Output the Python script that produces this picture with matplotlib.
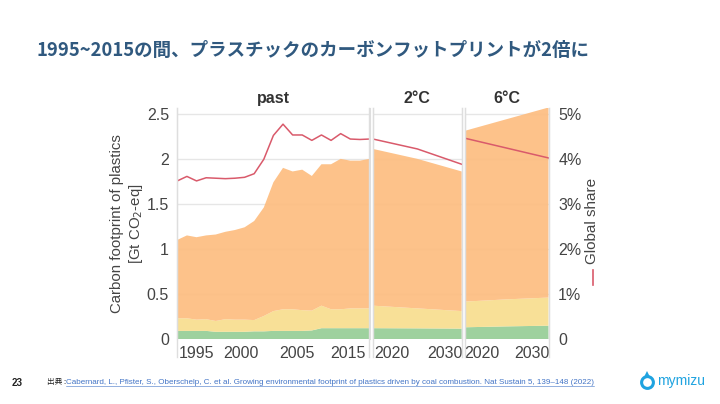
import numpy as np
import matplotlib.pyplot as plt
from matplotlib.lines import Line2D

plt.rcParams['font.family'] = ['Liberation Sans', 'DejaVu Sans']

# past (1995-2015), stacked layers in Gt CO2-eq
years_past = list(range(1995, 2016))
green_past = [0.09, 0.09, 0.09, 0.09, 0.08, 0.08, 0.08, 0.08, 0.085, 0.085, 0.09,
              0.09, 0.09, 0.09, 0.095, 0.12, 0.12, 0.12, 0.12, 0.12, 0.12]
yellow_past = [0.14, 0.14, 0.125, 0.13, 0.12, 0.14, 0.135, 0.135, 0.125, 0.17, 0.22,
               0.24, 0.24, 0.23, 0.22, 0.25, 0.21, 0.21, 0.22, 0.22, 0.22]
orange_past = [0.87, 0.92, 0.915, 0.93, 0.96, 0.97, 0.995, 1.025, 1.10, 1.205, 1.43,
               1.57, 1.53, 1.56, 1.495, 1.57, 1.61, 1.67, 1.64, 1.64, 1.66]
share_past = [3.51, 3.61, 3.51, 3.58, 3.57, 3.56, 3.57, 3.59, 3.67, 3.99, 4.52,
              4.77, 4.53, 4.53, 4.41, 4.53, 4.41, 4.56, 4.44, 4.43, 4.44]

# scenarios (2015-2035)
years_scen = [2015, 2025, 2035]
green_2c = [0.12, 0.118, 0.115]
yellow_2c = [0.25, 0.222, 0.195]
orange_2c = [1.74, 1.66, 1.55]
share_2c = [4.44, 4.22, 3.88]

green_6c = [0.13, 0.14, 0.148]
yellow_6c = [0.285, 0.30, 0.312]
orange_6c = [1.895, 2.00, 2.11]
share_6c = [4.46, 4.24, 4.02]

panel_titles = ['past', '2°C', '6°C']
tick_pos = [[1997, 2001.6, 2007.5, 2012.8], [2019.2, 2031.3], [2019.1, 2031.0]]
tick_labels = [['1995', '2000', '2005', '2015'], ['2020', '2030'], ['2020', '2030']]

c_green = '#96cd96'
c_yellow = '#f8de8e'
c_orange = '#fdbd80'
c_red = '#d95a6b'
txt = '#444444'
sep = '#dedede'

W, H = 720, 404
fig = plt.figure(figsize=(7.2, 4.04), dpi=100)

def fx(px):
    return px / W

def fy(py):
    return 1 - py / H

top_px, bot_px = 107.5, 339
panels_px = [(177.3, 369.5), (373.0, 461.7), (464.5, 548.5)]
ymax = 2.57

data = [
    (years_past, green_past, yellow_past, orange_past, share_past),
    (years_scen, green_2c, yellow_2c, orange_2c, share_2c),
    (years_scen, green_6c, yellow_6c, orange_6c, share_6c),
]

for i, ((x0, x1), (yrs, g, y, o, s)) in enumerate(zip(panels_px, data)):
    ax = fig.add_axes([fx(x0), fy(bot_px), fx(x1 - x0), fy(top_px) - fy(bot_px)])
    ax.stackplot(yrs, g, y, o, colors=[c_green, c_yellow, c_orange], alpha=0.92, lw=0)
    ax.set_xlim(yrs[0], yrs[-1])
    ax.set_ylim(0, ymax)
    ax.set_yticks([0, 0.5, 1, 1.5, 2, 2.5])
    ax.grid(axis='y', color='#e6e6e6', lw=1)
    ax.set_axisbelow(True)
    for sp in ['top', 'bottom']:
        ax.spines[sp].set_visible(False)
    for sp in ['left', 'right']:
        ax.spines[sp].set_color(sep)
    ax.set_xticks(tick_pos[i])
    ax.set_xticklabels(tick_labels[i])
    ax.tick_params(axis='x', length=0, pad=5, labelsize=11.5, colors=txt)
    ax.set_title(panel_titles[i], fontsize=11.5, fontweight='bold', color='#333333', pad=3)
    if i == 0:
        ax.set_yticklabels(['0', '0.5', '1', '1.5', '2', '2.5'])
        ax.tick_params(axis='y', length=0, pad=6, labelsize=11.5, colors=txt)
        ax.set_ylabel('Carbon footprint of plastics\n[Gt CO$_2$-eq]', fontsize=10.8,
                      color=txt, labelpad=1, linespacing=1.25)
    else:
        ax.tick_params(axis='y', length=0, labelleft=False)

    axr = ax.twinx()
    axr.plot(yrs, s, color=c_red, lw=1.1)
    axr.set_ylim(0, ymax * 2)
    axr.set_yticks([0, 1, 2, 3, 4, 5])
    axr.set_yticklabels(['0', '1%', '2%', '3%', '4%', '5%'])
    for sp in axr.spines.values():
        sp.set_visible(False)
    if i == 2:
        axr.tick_params(axis='y', length=0, pad=7, labelsize=11.5, colors=txt)
    else:
        axr.tick_params(axis='y', length=0, labelright=False)

# separators extending below the panels
for (x0, x1) in panels_px:
    for xp in (x0, x1):
        fig.add_artist(Line2D([fx(xp), fx(xp)], [fy(top_px), fy(357)], color=sep, lw=1))

# right axis label with red legend stroke
fig.text(fx(592), fy(221), 'Global share', rotation=90, ha='center', va='center',
         fontsize=11, color=txt)
fig.add_artist(Line2D([fx(593), fx(593)], [fy(270), fy(285)], color=c_red, lw=1.2))

# slide title
fig.text(fx(37), fy(50), '1995~2015の間、プラスチックのカーボンフットプリントが2倍に',
         fontsize=13.3, fontweight='bold', color='#30597f', ha='left', va='center',
         family=['Noto Sans CJK JP', 'DejaVu Sans'])

# footer
fig.text(fx(12), fy(383), '23', fontsize=7, fontweight='bold', color='#222222',
         ha='left', va='center')
fig.text(fx(47), fy(382), '出典 : ', fontsize=5.5, color='#222222', ha='left', va='center',
         family=['Noto Sans CJK JP', 'DejaVu Sans'])
link = fig.text(fx(66), fy(382),
                'Cabernard, L., Pfister, S., Oberschelp, C. et al. Growing environmental footprint '
                'of plastics driven by coal combustion. Nat Sustain 5, 139–148 (2022)',
                fontsize=5.8, color='#4274c6', ha='left', va='center')
fig.canvas.draw()
bb = link.get_window_extent(fig.canvas.get_renderer())
fig.add_artist(Line2D([bb.x0 / W, bb.x1 / W], [(bb.y0 - 0.3) / H, (bb.y0 - 0.3) / H],
                      color='#4274c6', lw=0.4))

# logo
fig.add_artist(Line2D([fx(647)], [fy(382)], marker='o', ms=8.5, mfc='white', mec='#1fa3e0', mew=2.2))
fig.add_artist(Line2D([fx(647)], [fy(374)], marker='^', ms=5, mfc='#1fa3e0', mec='#1fa3e0', mew=0))
fig.text(fx(657), fy(381), 'mymizu', fontsize=10, color='#1fa3e0', ha='left', va='center')

fig.savefig('out.png', dpi=100)
